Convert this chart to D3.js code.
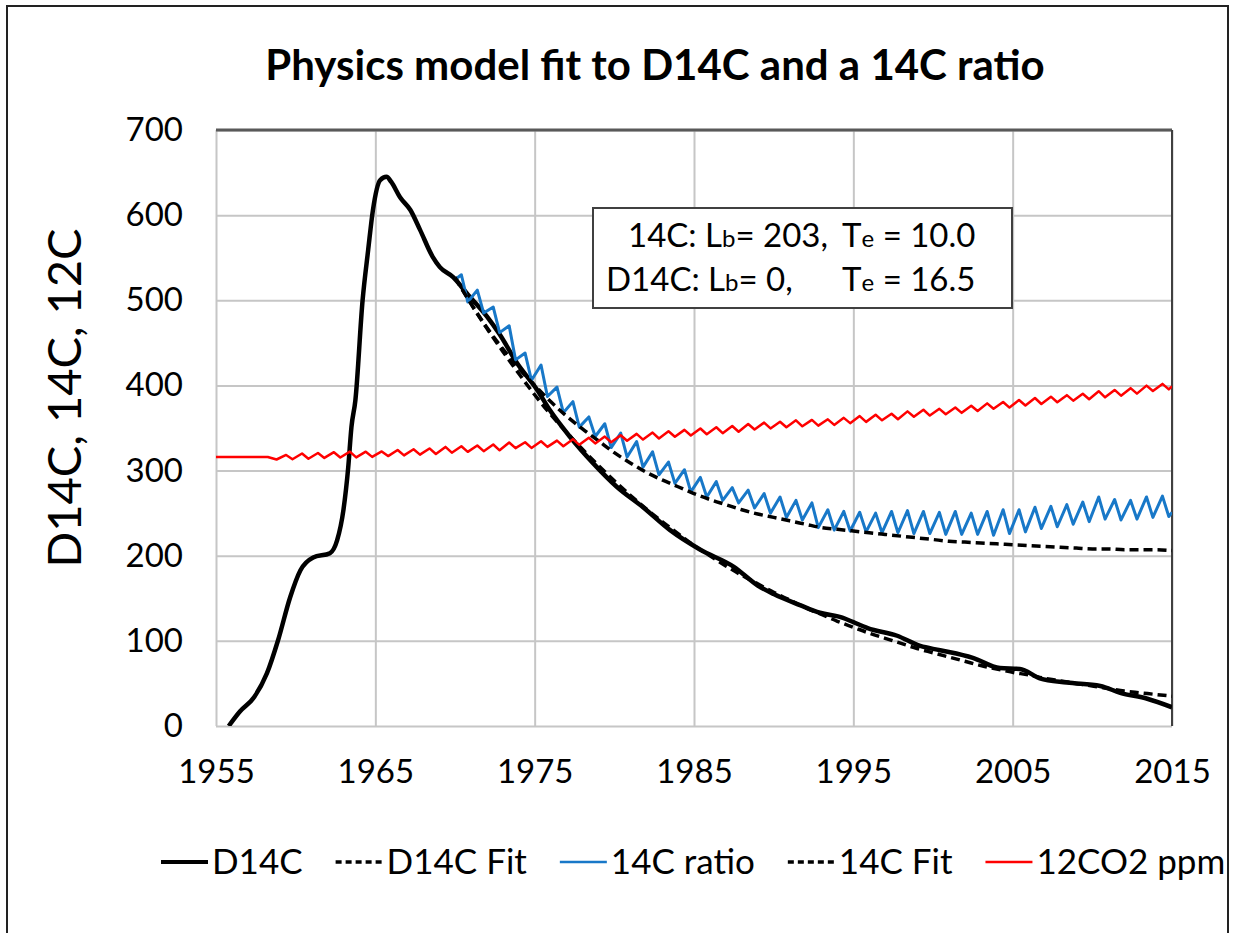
<!DOCTYPE html>
<html>
<head>
<meta charset="utf-8">
<script src="https://cdn.jsdelivr.net/npm/d3@7"></script>
<style>
  body { margin: 0; background: #fff; }
  svg text { font-family: Lato, "Open Sans", sans-serif; fill: #000; }
</style>
</head>
<body>
<svg id="chart" width="1245" height="933"></svg>
<script>
// ---- data ----
const xTicks = [1955, 1965, 1975, 1985, 1995, 2005, 2015];
const yTicks = [0, 100, 200, 300, 400, 500, 600, 700];

// D14C measured (year, value)
const d14cYears = [1955.8, 1956.5, 1957.4, 1958.2, 1958.9, 1959.65, 1960.3, 1961.1, 1962.15, 1962.6,
  1963.0, 1963.3, 1963.5, 1963.75, 1964.2, 1964.55, 1964.85, 1965.3, 1965.7, 1966.0,
  1966.55, 1967.2, 1967.8, 1968.6, 1969.05, 1969.9, 1970.75, 1972.0, 1972.8, 1973.9,
  1975.15, 1975.95, 1977.2, 1978.65, 1980.15, 1981.8, 1983.5, 1985.4, 1987.5, 1989.0,
  1990.0, 1991.65, 1992.9, 1994.35, 1995.0, 1995.9, 1997.75, 1999.2, 2000.45, 2002.5,
  2004.2, 2005.45, 2006.7, 2008.4, 2010.5, 2011.75, 2013.45, 2015.0];
const d14cValues = [0, 17, 34, 62, 101, 151, 183, 198, 203, 218,
  254, 304, 351, 383, 500, 559, 606, 641, 645, 639,
  621, 606, 583, 551, 539, 527, 508, 481, 460, 426,
  395, 371, 340, 309, 281, 257, 230, 207, 187, 165,
  155, 142, 133, 127, 122, 115, 106, 94, 89, 80,
  68, 67, 56, 51, 47, 39, 32, 22];

// model fits, yearly 1970..2015
const fitYears = d3.range(1970, 2016);
const d14cFit = [527, 496, 467, 440, 414, 389, 366, 345, 325, 306,
  288, 271, 255, 240, 226, 212, 200, 188, 177, 167,
  157, 148, 139, 131, 123, 116, 109, 103, 97, 91,
  86, 81, 76, 71, 67, 63, 60, 56, 53, 50,
  47, 44, 41, 39, 37, 35];
const c14Fit = [527, 496, 468, 443, 420, 400, 381, 364, 349, 335,
  321, 309, 298, 289, 281, 273, 266, 260, 254, 249,
  245, 241, 237, 233, 231, 229, 227, 225, 223, 221,
  219, 217, 216, 215, 214, 213, 212, 211, 210, 209,
  208, 208, 207, 207, 207, 206];

// 14C ratio: yearly seasonal peaks and troughs, 1970..2014
const ratioYears = d3.range(1970, 2015);
const ratioPeaks = [530, 512, 492, 470, 438, 424, 398, 381, 363, 355,
  344, 334, 322, 310, 301, 292, 287, 280, 277, 273,
  269, 265, 262, 254, 252, 251, 250, 252, 253, 252,
  251, 252, 250, 252, 254, 254, 257, 258, 260, 263,
  269, 266, 265, 269, 270];
const ratioTroughs = [498, 485, 462, 430, 406, 387, 368, 351, 340, 327,
  316, 304, 295, 285, 275, 269, 265, 262, 256, 250,
  245, 242, 233, 230, 229, 228, 227, 227, 226, 226,
  225, 225, 225, 224, 226, 228, 232, 234, 237, 240,
  243, 242, 243, 245, 246];
const ratioStart = [1970.05, 525];
const ratioEnd = [2015.0, 251];

// 12CO2 ppm: flat before 1958, then yearly peaks and troughs 1958..2014
const co2Flat = [[1955, 316], [1958.25, 316]];
const co2Years = d3.range(1958, 2015);
const co2Peaks = [316.5, 318.3, 320.0, 320.6, 321.6, 322.3, 322.2, 322.5, 324.2, 325.0,
  326.0, 327.8, 328.6, 329.4, 330.6, 332.9, 333.2, 334.4, 335.2, 336.9,
  338.6, 339.9, 341.5, 343.1, 344.6, 346.1, 347.8, 349.4, 350.9, 352.4,
  354.7, 356.3, 357.3, 359.0, 359.5, 360.2, 361.9, 364.0, 365.5, 366.8,
  369.5, 371.4, 372.5, 374.0, 376.2, 378.9, 380.6, 382.8, 385.2, 386.8,
  388.6, 390.3, 393.2, 394.7, 396.8, 399.8, 401.8];
const co2Troughs = [313.0, 313.3, 313.9, 314.9, 315.4, 315.5, 316.1, 317.0, 317.8, 318.7,
  319.4, 321.0, 322.0, 322.8, 323.8, 326.3, 326.6, 327.8, 328.6, 330.2,
  331.9, 333.3, 335.0, 336.4, 337.7, 339.7, 341.2, 342.7, 343.9, 345.6,
  348.3, 349.5, 350.9, 352.0, 352.8, 353.6, 355.7, 357.2, 359.0, 360.3,
  363.2, 364.6, 366.2, 367.8, 369.9, 372.6, 374.0, 376.5, 378.2, 380.3,
  382.1, 383.8, 386.0, 388.0, 390.4, 393.5, 395.4];
const co2End = [2015.0, 399];

const legendLabels = ['D14C', 'D14C Fit', '14C ratio', '14C Fit', '12CO2 ppm'];

// ---- layout ----
const plot = { left: 216, right: 1172, top: 130, bottom: 726 };
const svg = d3.select('#chart');

const x = d3.scaleLinear().domain([1955, 2015]).range([plot.left, plot.right]);
const y = d3.scaleLinear().domain([0, 700]).range([plot.bottom, plot.top]);

// outer frame
svg.append('path')
  .attr('d', 'M7,933 V6 H1228 V933')
  .attr('fill', 'none')
  .attr('stroke', '#222')
  .attr('stroke-width', 2);

// title
svg.append('text')
  .attr('x', 655)
  .attr('y', 80)
  .attr('text-anchor', 'middle')
  .style('font-size', '42px')
  .style('font-weight', 'bold')
  .text('Physics model fit to D14C and a 14C ratio');

// axes + grid
const xAxis = svg.append('g')
  .attr('transform', `translate(0,${plot.bottom})`)
  .call(d3.axisBottom(x).tickValues(xTicks).tickFormat(d3.format('d'))
    .tickSize(-(plot.bottom - plot.top)).tickPadding(34));
const yAxis = svg.append('g')
  .attr('transform', `translate(${plot.left},0)`)
  .call(d3.axisLeft(y).tickValues(yTicks)
    .tickSize(-(plot.right - plot.left)).tickPadding(33));

[xAxis, yAxis].forEach(g => {
  g.select('.domain').remove();
  g.selectAll('.tick line').attr('stroke', '#c6c6c6').attr('stroke-width', 2);
  g.selectAll('.tick text').style('font-size', '33px').style('font-family', 'Lato, sans-serif').attr('fill', '#000');
});

// darker top and right edges of the plot
svg.append('line')
  .attr('x1', plot.left).attr('x2', plot.right)
  .attr('y1', y(700)).attr('y2', y(700))
  .attr('stroke', '#595959').attr('stroke-width', 3);
svg.append('line')
  .attr('x1', x(2015)).attr('x2', x(2015))
  .attr('y1', plot.top).attr('y2', plot.bottom)
  .attr('stroke', '#404040').attr('stroke-width', 2);

// y axis title
svg.append('text')
  .attr('transform', `translate(81,398) rotate(-90)`)
  .attr('text-anchor', 'middle')
  .style('font-size', '47px')
  .text('D14C, 14C, 12C');

// clip
svg.append('clipPath').attr('id', 'plot-clip')
  .append('rect')
  .attr('x', plot.left).attr('y', plot.top - 2)
  .attr('width', plot.right - plot.left).attr('height', plot.bottom - plot.top + 2);

const lines = svg.append('g').attr('clip-path', 'url(#plot-clip)');
const line = d3.line().x(d => x(d[0])).y(d => y(d[1]));
const smooth = d3.line().x(d => x(d[0])).y(d => y(d[1])).curve(d3.curveMonotoneX);

// series points
const d14cPts = d14cYears.map((yr, i) => [yr, d14cValues[i]]);
const d14cFitPts = fitYears.map((yr, i) => [yr, d14cFit[i]]);
const c14FitPts = fitYears.map((yr, i) => [yr, c14Fit[i]]);

const ratioPts = [ratioStart];
ratioYears.forEach((yr, i) => {
  ratioPts.push([yr + 0.4, ratioPeaks[i]]);
  ratioPts.push([yr + 0.8, ratioTroughs[i]]);
});
ratioPts.push(ratioEnd);

const co2Pts = co2Flat.slice();
co2Years.forEach((yr, i) => {
  if (yr > 1958) co2Pts.push([yr + 0.4, co2Peaks[i]]);
  co2Pts.push([yr + 0.8, co2Troughs[i]]);
});
co2Pts.push(co2End);

const series = [
  { pts: d14cPts, gen: smooth, color: '#000', width: 4.5, dash: null },
  { pts: d14cFitPts, gen: smooth, color: '#000', width: 3.5, dash: '9,5' },
  { pts: ratioPts, gen: line, color: '#1878c8', width: 3, dash: null },
  { pts: c14FitPts, gen: smooth, color: '#000', width: 3.5, dash: '9,5' },
  { pts: co2Pts, gen: line, color: '#ff0000', width: 2.5, dash: null }
];

series.forEach(s => {
  lines.append('path')
    .attr('d', s.gen(s.pts))
    .attr('fill', 'none')
    .attr('stroke', s.color)
    .attr('stroke-width', s.width)
    .attr('stroke-linejoin', 'round')
    .attr('stroke-dasharray', s.dash);
});

// text box
svg.append('rect')
  .attr('x', 593).attr('y', 208)
  .attr('width', 419).attr('height', 100)
  .attr('fill', '#fff')
  .attr('stroke', '#404040')
  .attr('stroke-width', 2);

const boxLines = [
  { x: 628, y: 247, a: '14C: L', b: '= 203,', te: '10.0' },
  { x: 606, y: 291, a: 'D14C: L', b: '= 0,', te: '16.5' }
];
boxLines.forEach(l => {
  const t = svg.append('text').attr('x', l.x).attr('y', l.y).style('font-size', '33px');
  t.append('tspan').text(l.a);
  t.append('tspan').style('font-size', '24px').text('b');
  t.append('tspan').text(l.b);
  const t2 = svg.append('text').attr('x', 842).attr('y', l.y).style('font-size', '33px');
  t2.append('tspan').text('T');
  t2.append('tspan').style('font-size', '24px').text('e');
  t2.append('tspan').text(' = ' + l.te);
});

// legend
const legend = svg.append('g');
let lx = 161;
const ly = 862;
legendLabels.forEach((label, i) => {
  const s = series[i];
  legend.append('line')
    .attr('x1', lx).attr('x2', lx + 47)
    .attr('y1', ly).attr('y2', ly)
    .attr('stroke', s.color)
    .attr('stroke-width', s.dash ? 3.5 : (i === 0 ? 4 : 2.5))
    .attr('stroke-dasharray', s.dash ? '6,4' : null);
  const txt = legend.append('text')
    .attr('x', lx + 51).attr('y', ly)
    .attr('dy', '0.35em')
    .style('font-size', '35px')
    .text(label);
  lx += 51 + txt.node().getComputedTextLength() + 33;
});
</script>
</body>
</html>
